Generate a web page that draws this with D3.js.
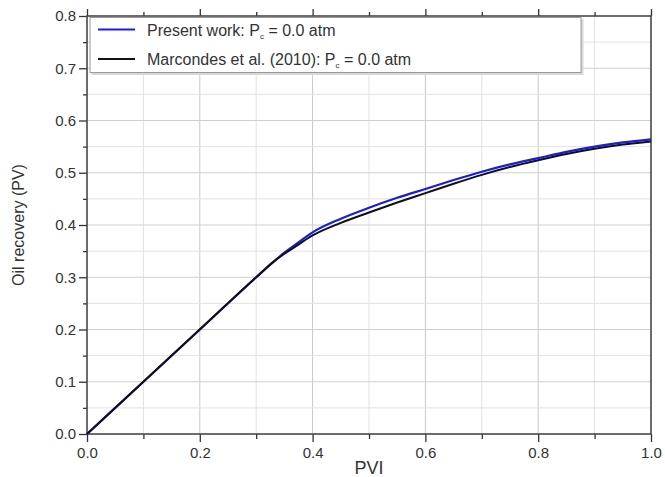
<!DOCTYPE html>
<html>
<head>
<meta charset="utf-8">
<script src="https://cdn.jsdelivr.net/npm/d3@7"></script>
<style>
  body { margin: 0; background: #fff; }
  text { font-family: "Liberation Sans", Arial, sans-serif; fill: #333; }
</style>
</head>
<body>
<div id="chart"></div>
<script>
// values
var pvi       = [0, 0.1, 0.2, 0.3, 0.33, 0.35, 0.37, 0.4, 0.45, 0.5, 0.55, 0.6, 0.65, 0.7, 0.75, 0.8, 0.85, 0.9, 0.95, 1.0];
var present   = [0, 0.1, 0.2, 0.3, 0.329, 0.347, 0.363, 0.386, 0.412, 0.433, 0.452, 0.469, 0.486, 0.502, 0.516, 0.528, 0.540, 0.550, 0.558, 0.564];
var marcondes = [0, 0.1, 0.2, 0.3, 0.329, 0.345, 0.359, 0.380, 0.404, 0.424, 0.443, 0.461, 0.479, 0.496, 0.511, 0.524, 0.536, 0.546, 0.554, 0.560];
var xTicks = [0, 0.2, 0.4, 0.6, 0.8, 1.0];
var yTicks = [0, 0.1, 0.2, 0.3, 0.4, 0.5, 0.6, 0.7, 0.8];

var margin = { top: 16, left: 87, right: 14, bottom: 43 },
	width = 665 - margin.left - margin.right,
	height = 477 - margin.top - margin.bottom;

var svg = d3.select("#chart")
	.append("svg")
	.attr("width", 665)
	.attr("height", 477)
	.append("g")
	.attr("transform", "translate(" + margin.left + "," + margin.top + ")");

var x = d3.scaleLinear().domain([0, 1]).range([0, width]);
var y = d3.scaleLinear().domain([0, 0.8]).range([height, 0]);

// grid: minor lines lighter than majors
var xMinor = d3.range(0, 1.0001, 0.1), yMinor = d3.range(0, 0.8001, 0.05);
svg.selectAll(".gx").data(xMinor).enter().append("line")
	.attr("x1", d => x(d)).attr("x2", d => x(d))
	.attr("y1", 0).attr("y2", height)
	.attr("stroke", (d, i) => i % 2 ? "#e2e2e2" : "#c8c8c8")
	.attr("stroke-width", 1);
svg.selectAll(".gy").data(yMinor).enter().append("line")
	.attr("y1", d => y(d)).attr("y2", d => y(d))
	.attr("x1", 0).attr("x2", width)
	.attr("stroke", (d, i) => i % 2 ? "#e2e2e2" : "#cfcfcf")
	.attr("stroke-width", 1);

// axes
var fmt = d3.format(".1f");
svg.append("g").attr("transform", "translate(0," + height + ")")
	.call(d3.axisBottom(x).tickValues(xTicks).tickFormat(fmt).tickSize(8).tickPadding(5));
svg.append("g").attr("transform", "translate(0," + height + ")")
	.call(d3.axisBottom(x).tickValues(d3.range(0.1, 1, 0.2)).tickFormat("").tickSize(5));
svg.append("g")
	.call(d3.axisLeft(y).tickValues(yTicks).tickFormat(fmt).tickSize(8).tickPadding(3));
svg.append("g")
	.call(d3.axisLeft(y).tickValues(d3.range(0.05, 0.8, 0.1)).tickFormat("").tickSize(4));
// top axis ticks pointing up
svg.append("g")
	.call(d3.axisTop(x).tickValues(xTicks).tickFormat("").tickSize(7));
svg.append("g")
	.call(d3.axisTop(x).tickValues(d3.range(0.1, 1, 0.2)).tickFormat("").tickSize(4));

svg.selectAll(".domain").remove();
svg.selectAll(".tick line").attr("stroke", "#333").attr("stroke-width", 1.3);
svg.selectAll(".tick text").style("font-size", "15px").attr("fill", "#333");

// frame
svg.append("rect")
	.attr("x", 0).attr("y", 0).attr("width", width).attr("height", height)
	.attr("fill", "none").attr("stroke", "#444").attr("stroke-width", 1.5);

// curves
var line = d3.line().x(d => x(d[0])).y(d => y(d[1])).curve(d3.curveMonotoneX);
svg.append("path").datum(d3.zip(pvi, present))
	.attr("d", line).attr("fill", "none")
	.attr("stroke", "#1c1ce0").attr("stroke-width", 2.2);
svg.append("path").datum(d3.zip(pvi, marcondes))
	.attr("d", line).attr("fill", "none")
	.attr("stroke", "#111").attr("stroke-width", 2);

// axis titles
svg.append("text")
	.attr("x", x(0.5)).attr("y", height + 40)
	.attr("text-anchor", "middle").style("font-size", "18px")
	.text("PVI");
svg.append("text")
	.attr("transform", "translate(" + (-63) + "," + (height / 2) + ") rotate(-90)")
	.attr("text-anchor", "middle").style("font-size", "16px")
	.text("Oil recovery (PV)");

// legend
var legend = svg.append("g").attr("transform", "translate(3,1.5)");
legend.append("rect")
	.attr("x", 1.5).attr("y", 1.5).attr("width", 492).attr("height", 56)
	.attr("fill", "#d8d8d8");
legend.append("rect")
	.attr("width", 491).attr("height", 55)
	.attr("fill", "#fff").attr("stroke", "#999").attr("stroke-width", 1);

var items = [
	{ name: "Present work: P", tail: " = 0.0 atm", color: "#1c1ce0" },
	{ name: "Marcondes et al. (2010): P", tail: " = 0.0 atm", color: "#111" }
];
items.forEach(function(d, i) {
	var yy = 12 + i * 29.5;
	legend.append("line")
		.attr("x1", 8).attr("x2", 45).attr("y1", yy).attr("y2", yy)
		.attr("stroke", d.color).attr("stroke-width", 2.2);
	var t = legend.append("text")
		.attr("x", 57).attr("y", yy + 6)
		.style("font-size", "16px");
	t.append("tspan").text(d.name);
	t.append("tspan").attr("dy", 3).style("font-size", "8px").text("c");
	t.append("tspan").attr("dy", -3).text(d.tail);
});
</script>
</body>
</html>
